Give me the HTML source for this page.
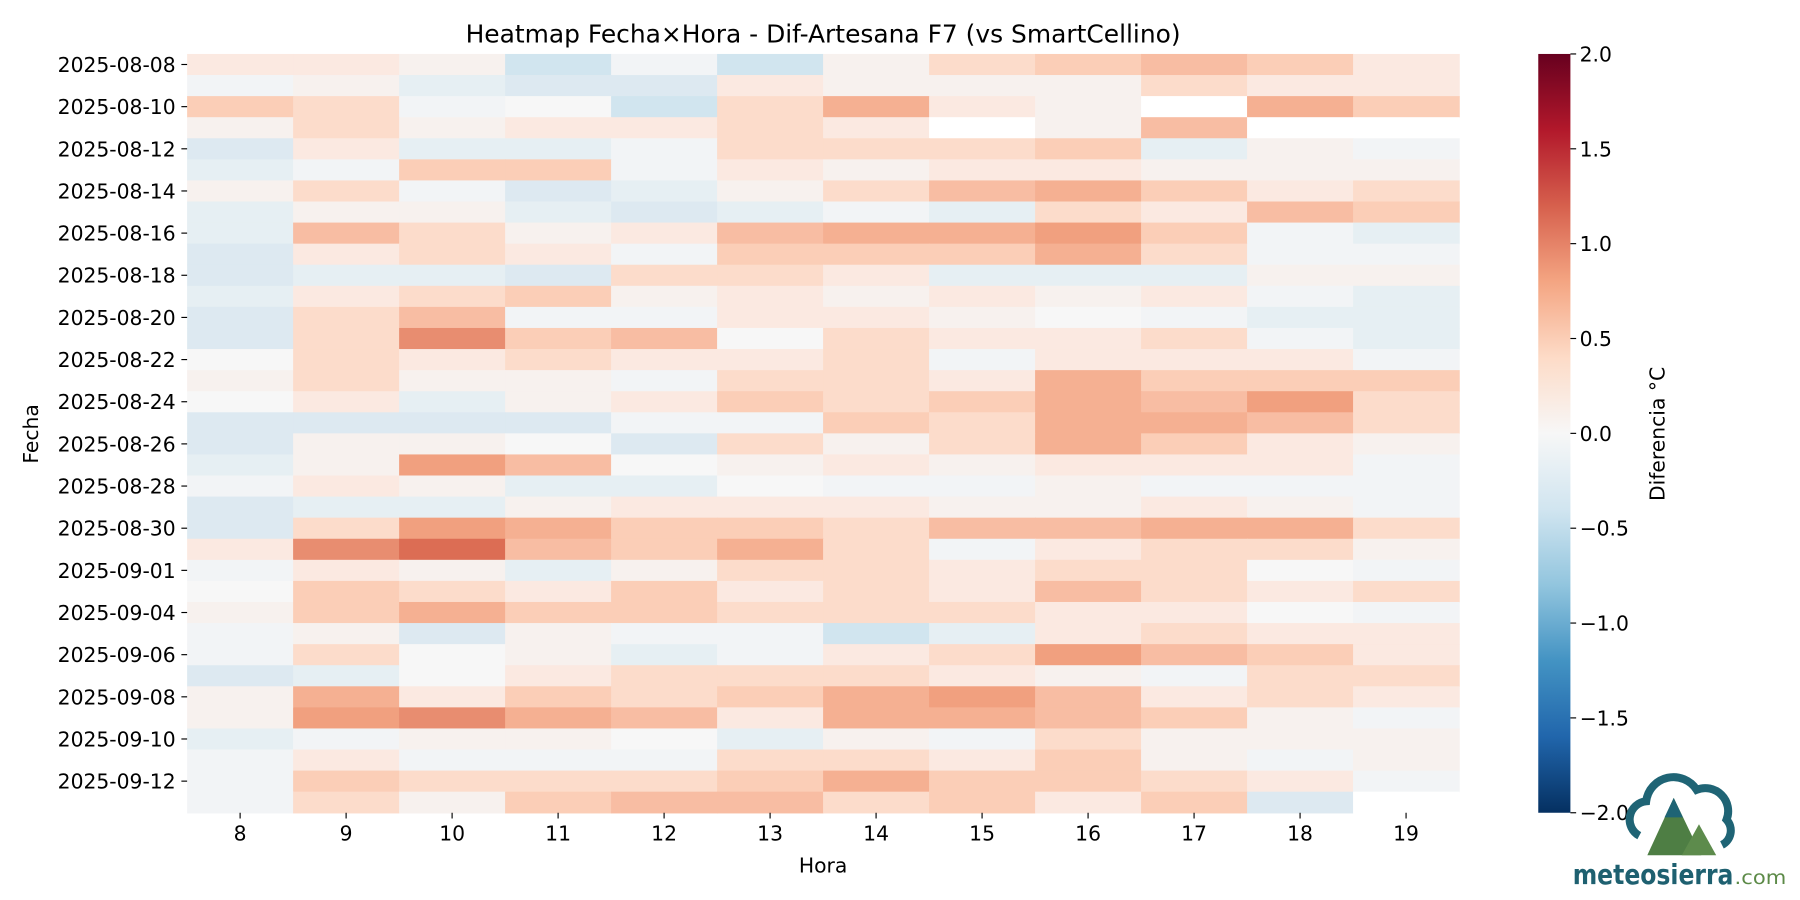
<!DOCTYPE html>
<html><head><meta charset="utf-8"><style>
html,body{margin:0;padding:0;background:#fff;width:1800px;height:900px;overflow:hidden}
svg{display:block;font-family:"DejaVu Sans","Liberation Sans",sans-serif}
</style></head><body>
<svg id="s" width="1800" height="900" viewBox="0 0 1568 784" xmlns="http://www.w3.org/2000/svg">
<defs>
<linearGradient id="cb" x1="0" y1="1" x2="0" y2="0">
<stop offset="0" stop-color="#053061"/><stop offset="0.1" stop-color="#2166ac"/><stop offset="0.2" stop-color="#4393c3"/><stop offset="0.3" stop-color="#92c5de"/><stop offset="0.4" stop-color="#d1e5f0"/><stop offset="0.5" stop-color="#f7f7f7"/><stop offset="0.6" stop-color="#fddbc7"/><stop offset="0.7" stop-color="#f4a582"/><stop offset="0.8" stop-color="#d6604d"/><stop offset="0.9" stop-color="#b2182b"/><stop offset="1" stop-color="#67001f"/>
</linearGradient>
</defs>
<g id="hm"></g>
<text x="717" y="37" font-size="21.7" text-anchor="middle" fill="#000">Heatmap Fecha×Hora - Dif-Artesana F7 (vs SmartCellino)</text>
<g id="yt" font-size="17.7" fill="#000" text-anchor="end"></g>
<g id="xt" font-size="17.7" fill="#000" text-anchor="middle"></g>
<text x="717" y="760" font-size="17.7" text-anchor="middle">Hora</text>
<text transform="translate(33,378) rotate(-90)" font-size="17.7" text-anchor="middle">Fecha</text>
<rect x="1340" y="47" width="28" height="661" fill="url(#cb)"/>
<g id="ct" font-size="17.7" fill="#000"></g>
<text transform="translate(1450,378) rotate(-90)" font-size="17.7" text-anchor="middle">Diferencia °C</text>
<g>
<path d="M1428 728 a16 16 0 0 1 6 -30 a24 24 0 0 1 44 -10 a20 20 0 0 1 26 26 a14 14 0 0 1 -4 22" fill="none" stroke="#1f6475" stroke-width="7"/>
<polygon points="1435,745 1458,695 1482,745" fill="#4e7e44"/>
<polygon points="1465,745 1480,718 1495,745" fill="#5d8b4c"/>
<polygon points="1458,695 1450,712 1466,712" fill="#1f6475"/>
<text x="1370" y="770" font-size="24" font-weight="bold" fill="#1e6070" textLength="140" lengthAdjust="spacingAndGlyphs">meteosierra</text>
<text x="1511" y="770" font-size="16" fill="#5c8a47" textLength="45" lengthAdjust="spacingAndGlyphs">.com</text>
</g>
</svg>
<script>
var P={A:"#fbe9e1",B:"#fcdccb",C:"#fbceb7",D:"#f8bda3",E:"#f5b092",F:"#f1a07f",G:"#e88d70",H:"#dc6d54",N:"#f7f1ee",W:"#f7f7f7",M:"#f2f4f6",L:"#e6eff3",K:"#dde9f1",J:"#d1e5ef",X:"#ffffff"};
var R=["AANJMJNBCDCA","MNLKKANNNBAA","CBMWJBEANXEC","NBNAABAXNDXX","KALLMBBBCLNM","LMCCMANAANNN","NBMKLNBDECAB","LNNLKLMLBADC","LDBNADEEFCML","KABAMCCCEBMM","KLLKBBALLLNN","LABCNANANAML","KBDMMAANWMLL","KBGCDWBAABML","WBABAABMAAAM","NBNNMBBAECCC","WALNACBCEDFB","KKKKMMCBEEDB","KNNWKBNBECAN","LNFDWNANAAAM","MANLLWMMNMMM","KLLNAAANNANM","KBFECCBDDEEB","AGHDCEBMABBN","MANLNBBABBWM","WCBACABADBAB","NCECCBBBAAWM","MNKNMMJLABAA","MBWNLMABFDCA","KLWABBBANMBB","NEACBCEFDABA","NFGEDAEEDCNM","LMNNWLNMBNNN","MAMMMBBACNMN","MCBBBCECCBAM","MBNCDDBCACKX"];
var ns="http://www.w3.org/2000/svg",x0=163,y0=47,cw=1108/12,rh=661/36;
function el(t,a,p,tx){var e=document.createElementNS(ns,t);for(var k in a)e.setAttribute(k,a[k]);if(tx)e.textContent=tx;p.appendChild(e);return e;}
var hm=document.getElementById("hm");
R.forEach(function(r,i){for(var j=0;j<12;j++)el("rect",{x:(x0+j*cw).toFixed(2),y:(y0+i*rh).toFixed(2),width:(cw+0.6).toFixed(2),height:(rh+0.6).toFixed(2),fill:P[r[j]]},hm);});
var lab=["2025-08-08","2025-08-10","2025-08-12","2025-08-14","2025-08-16","2025-08-18","2025-08-20","2025-08-22","2025-08-24","2025-08-26","2025-08-28","2025-08-30","2025-09-01","2025-09-04","2025-09-06","2025-09-08","2025-09-10","2025-09-12"];
var yt=document.getElementById("yt");
lab.forEach(function(l,k){var y=y0+(2*k+0.5)*rh;el("line",{x1:158,x2:163,y1:y,y2:y,stroke:"#000","stroke-width":1},yt);el("text",{x:153,y:y+6.5},yt,l);});
var xt=document.getElementById("xt");
for(var j=0;j<12;j++){var x=x0+(j+0.5)*cw;el("line",{x1:x,x2:x,y1:708,y2:713,stroke:"#000","stroke-width":1},xt);el("text",{x:x,y:732},xt,String(8+j));}
var ct=document.getElementById("ct");
var cl=["2.0","1.5","1.0","0.5","0.0","\u22120.5","\u22121.0","\u22121.5","\u22122.0"];
cl.forEach(function(l,k){var y=47+k*661/8;el("line",{x1:1368,x2:1373,y1:y,y2:y,stroke:"#000","stroke-width":1},ct);el("text",{x:1376,y:y+6.5},ct,l);});
</script>
</body></html>
